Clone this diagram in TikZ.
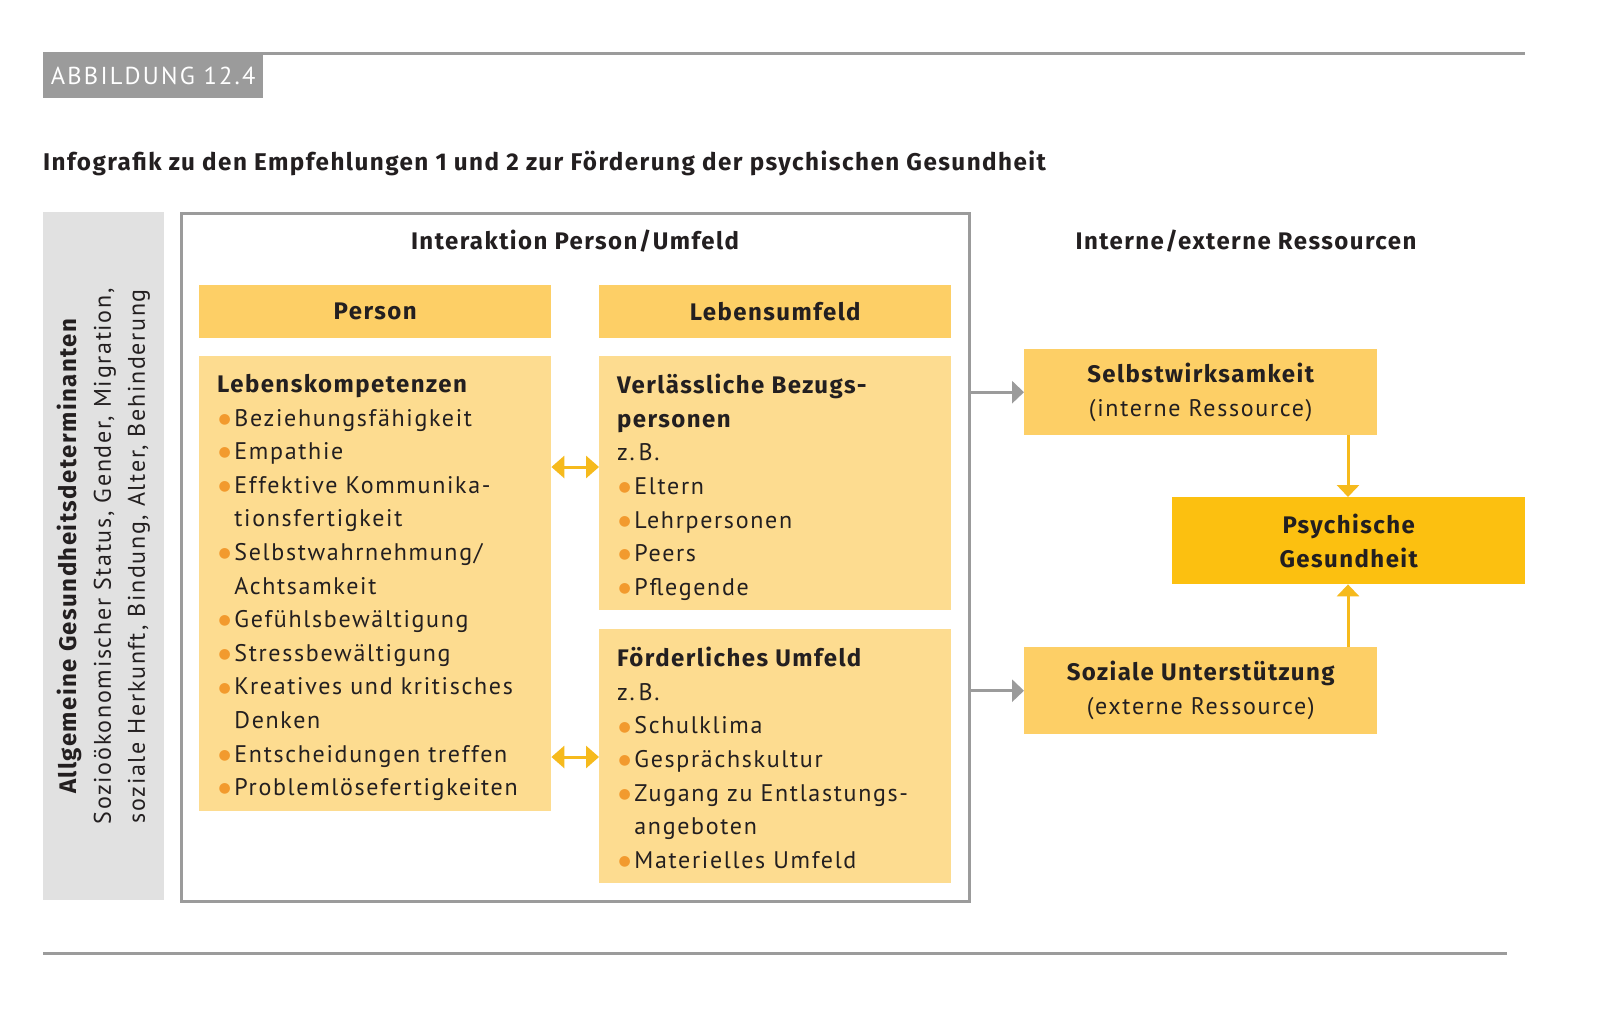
\documentclass[tikz,border=0pt]{standalone}
\usepackage{fontspec}
\setmainfont{PT Sans}[LetterSpace=7, BoldFont={Fira Sans Bold}, BoldFeatures={LetterSpace=6}]
\newfontfamily\dejavu{DejaVu Sans}
\newfontfamily\abbfont{PT Sans}[LetterSpace=9]
\usetikzlibrary{arrows.meta}
\definecolor{hdr}{HTML}{FDCF66}
\definecolor{lite}{HTML}{FDDC90}
\definecolor{dark}{HTML}{FCC010}
\definecolor{arr}{HTML}{F6BA1C}
\definecolor{gr}{HTML}{9B9B9B}
\definecolor{lgr}{HTML}{E1E1E1}
\definecolor{bulc}{HTML}{F29A2E}
\definecolor{txt}{HTML}{231F20}
\newcommand\bul{\kern1.5pt\textcolor{bulc}{{\dejavu\fontsize{14}{14}\selectfont\raisebox{0.2em}{●}}}\kern3.5pt}
\newcommand\ind{\hphantom{\bul}}
\tikzset{
  box/.style={fill=#1, draw=none, inner sep=0pt, anchor=north west},
  bodytext/.style={anchor=north west, inner sep=0pt, align=left, text=txt,
    font=\fontsize{24}{33.6}\selectfont},
  ctext/.style={inner sep=0pt, align=center, text=txt,
    font=\fontsize{24}{34}\selectfont},
  hdrtext/.style={inner sep=0pt, text=txt, font=\bfseries\fontsize{24}{28}\selectfont},
  yarr/.style={draw=arr, line width=3pt, -{Triangle[length=12pt,width=22pt]}},
  ydarr/.style={draw=arr, line width=3pt, {Triangle[length=13pt,width=22pt]}-{Triangle[length=13pt,width=22pt]}},
  garr/.style={draw=gr, line width=3pt, -{Triangle[length=12pt,width=22pt]}},
}
\begin{document}
\begin{tikzpicture}[x=1pt,y=-1pt]
\useasboundingbox[fill=white] (0,0) rectangle (1600,1020);
% top and bottom rules
\coordinate (tl) at (43,53);
\coordinate (tr) at (1525,53);
\draw[gr, line width=3pt] (tl) -- (tr);
\coordinate (bl) at (43,953);
\coordinate (br) at (1507,953);
\draw[gr, line width=3pt] (bl) -- (br);
% label
\node[box=gr, minimum width=220pt, minimum height=45pt] (abb) at (43,53) {};
\node[text=white, inner sep=0pt, font=\abbfont\fontsize{24.5}{24}\selectfont] (abbt) at (abb.center) {ABBILDUNG 12.4};
% title
\node[anchor=base west, inner sep=0pt, text=txt, font=\bfseries\fontsize{24.2}{28}\selectfont] (title) at (43,170)
  {Infografik zu den Empfehlungen 1 und 2 zur Förderung der psychischen Gesundheit};
% left gray bar
\node[box=lgr, minimum width=121pt, minimum height=688pt] (bar) at (43,212) {};
\node[rotate=90, inner sep=0pt, align=center, text=txt, font=\fontsize{24}{34}\selectfont] (bart) at (bar.center)
  {{\bfseries Allgemeine Gesundheitsdeterminanten}\\Sozioökonomischer Status, Gender, Migration,\\soziale Herkunft, Bindung, Alter, Behinderung};
% main frame
\node[draw=gr, line width=3pt, fill=white, minimum width=788pt, minimum height=688pt, inner sep=0pt] (frame) at (575,557) {};
\node[hdrtext] (inter) at (575,241) {Interaktion Person/Umfeld};
\node[hdrtext] (ress) at (1246,241) {Interne/externe Ressourcen};
% headers
\node[box=hdr, minimum width=352pt, minimum height=53pt] (person) at (199,285) {};
\node[hdrtext] at (person.center) (persont) {Person};
\node[box=hdr, minimum width=352pt, minimum height=53pt] (umfeld) at (599,285) {};
\node[hdrtext] at (umfeld.center) (umfeldt) {Lebensumfeld};
% content boxes
\node[box=lite, minimum width=352pt, minimum height=455pt] (lk) at (199,356) {};
\node[box=lite, minimum width=352pt, minimum height=254pt] (vb) at (599,356) {};
\node[box=lite, minimum width=352pt, minimum height=254pt] (fu) at (599,629) {};
\node[bodytext] (lkt) at (217,374) {{\bfseries Lebenskompetenzen}\\
\bul Beziehungsfähigkeit\\
\bul Empathie\\
\bul Effektive Kommunika-\\
\ind tionsfertigkeit\\
\bul Selbstwahrnehmung/\\
\ind Achtsamkeit\\
\bul Gefühlsbewältigung\\
\bul Stressbewältigung\\
\bul Kreatives und kritisches\\
\ind Denken\\
\bul Entscheidungen treffen\\
\bul Problemlösefertigkeiten};
\node[bodytext] (vbt) at (617,374) {{\bfseries Verlässliche Bezugs-}\\
{\bfseries personen}\\
z.\,B.\\
\bul Eltern\\
\bul Lehrpersonen\\
\bul Peers\\
\bul Pflegende};
\node[bodytext] (fut) at (617,647) {{\bfseries Förderliches Umfeld}\\
z.\,B.\\
\bul Schulklima\\
\bul Gesprächskultur\\
\bul Zugang zu Entlastungs-\\
\ind angeboten\\
\bul Materielles Umfeld};
% right boxes
\node[box=hdr, minimum width=353pt, minimum height=86pt] (sw) at (1024,349) {};
\node[ctext] (swt) at (sw.center) {{\bfseries Selbstwirksamkeit}\\(interne Ressource)};
\node[box=dark, minimum width=353pt, minimum height=87pt] (pg) at (1172,497) {};
\node[ctext] (pgt) at (pg.center) {{\bfseries Psychische}\\{\bfseries Gesundheit}};
\node[box=hdr, minimum width=353pt, minimum height=87pt] (su) at (1024,647) {};
\node[ctext] (sut) at (su.center) {{\bfseries Soziale Unterstützung}\\(externe Ressource)};
% arrows
\coordinate (d1) at (575,467);
\coordinate (d2) at (575,757);
\draw[ydarr] (lk.east |- d1) -- (vb.west |- d1);
\draw[ydarr] (lk.east |- d2) -- (fu.west |- d2);
\draw[garr] (frame.east |- sw.west) -- (sw.west);
\draw[garr] (frame.east |- su.west) -- (su.west);
\coordinate (vx) at (1348,0);
\draw[yarr] (sw.south -| vx) -- (pg.north -| vx);
\draw[yarr] (su.north -| vx) -- (pg.south -| vx);
\end{tikzpicture}
\end{document}
